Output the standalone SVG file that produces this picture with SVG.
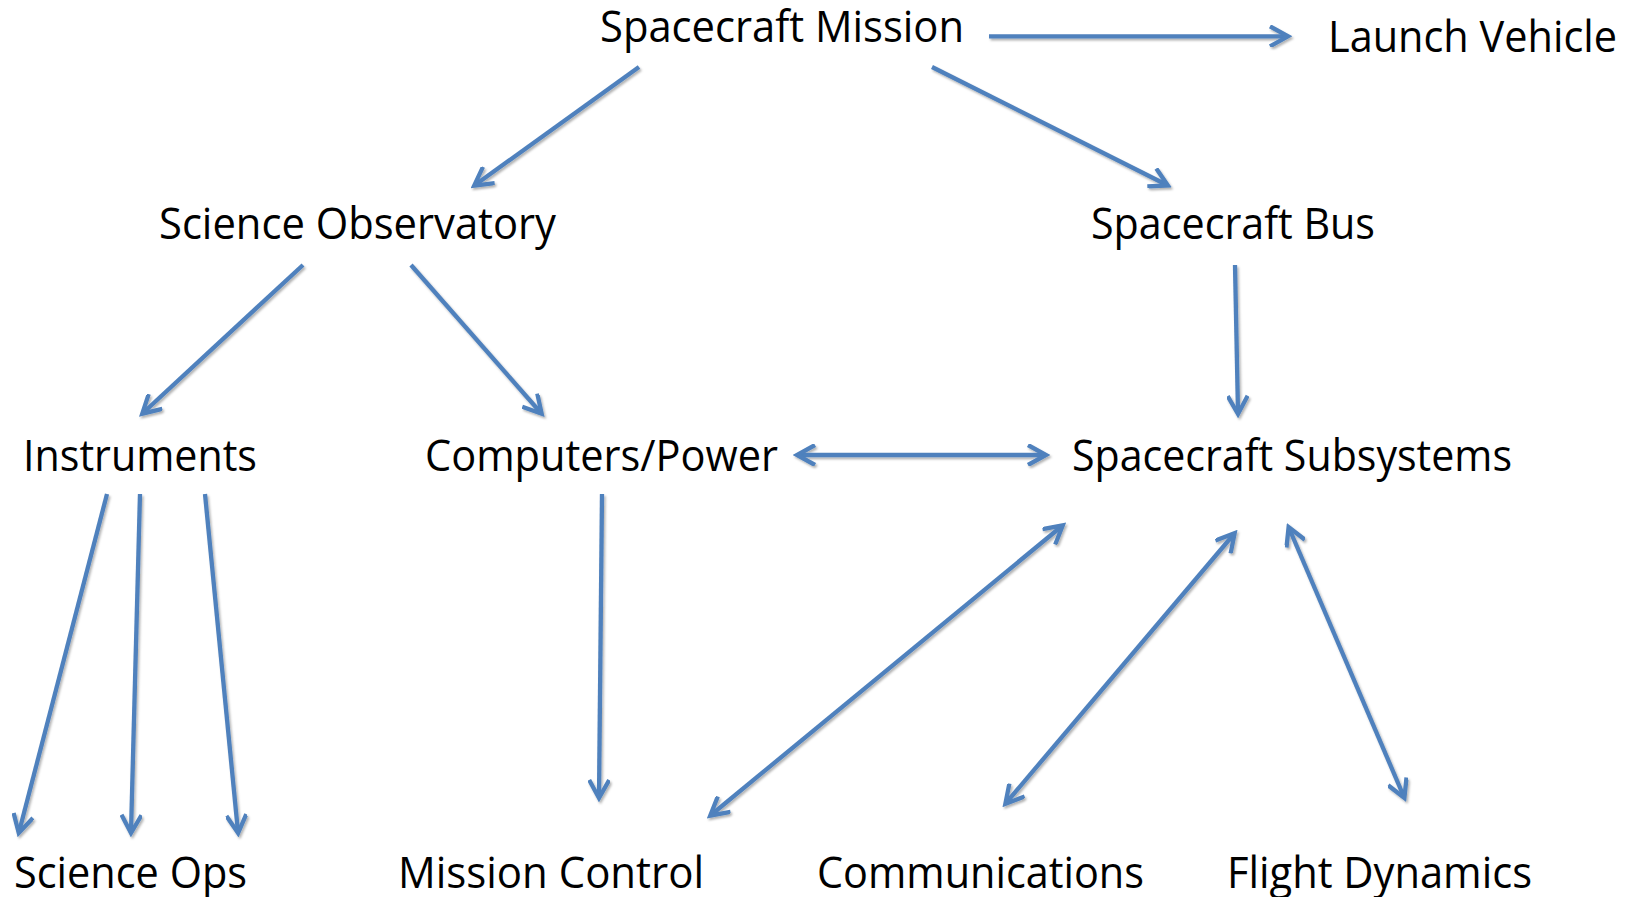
<svg xmlns="http://www.w3.org/2000/svg" width="1631" height="897" viewBox="0 0 1631 897">
<style>
.lbl{font-family:"Open Sans","Liberation Sans",sans-serif;font-size:43px;fill:#000;}
.cn{stroke:#4F81BD;stroke-width:4.3;fill:none;}
.one{marker-end:url(#ah);}
.two{marker-start:url(#ah);marker-end:url(#ah);}
</style>
<defs>
<filter id="sh" filterUnits="userSpaceOnUse" x="0" y="0" width="1631" height="897">
<feDropShadow dx="1.5" dy="2" stdDeviation="1.3" flood-color="#000" flood-opacity="0.3"/>
</filter>
<marker id="ah" viewBox="0 0 24 22" markerWidth="24" markerHeight="22" refX="19" refY="11" orient="auto-start-reverse" markerUnits="userSpaceOnUse">
<path d="M2,1 L20,11 L2,21" fill="none" stroke="#4F81BD" stroke-width="4.3" stroke-linejoin="miter"/>
</marker>
</defs>
<rect width="1631" height="897" fill="#fff"/>
<g id="connectors" filter="url(#sh)">
<line class="cn one" x1="989" y1="36.3" x2="1287" y2="36.3"/>
<line class="cn one" x1="639" y1="67" x2="475" y2="185"/>
<line class="cn one" x1="932" y1="67" x2="1167" y2="185"/>
<line class="cn one" x1="303" y1="265" x2="143" y2="413"/>
<line class="cn one" x1="411" y1="265" x2="541" y2="413"/>
<line class="cn one" x1="1235" y1="265" x2="1238" y2="413"/>
<line class="cn two" x1="798" y1="455" x2="1045" y2="455"/>
<line class="cn one" x1="107" y1="494" x2="19" y2="832"/>
<line class="cn one" x1="140" y1="494" x2="131" y2="832"/>
<line class="cn one" x1="205" y1="494" x2="238" y2="832"/>
<line class="cn one" x1="602" y1="494" x2="599" y2="797"/>
<line class="cn two" x1="711" y1="815" x2="1062" y2="526"/>
<line class="cn two" x1="1006" y1="803" x2="1234" y2="534"/>
<line class="cn two" x1="1404" y1="797" x2="1289" y2="528"/>
</g>
<g id="spacecraft-mission"><text class="lbl" x="600" y="42" textLength="364" lengthAdjust="spacingAndGlyphs">Spacecraft Mission</text></g>
<g id="launch-vehicle"><text class="lbl" x="1328" y="52" textLength="289" lengthAdjust="spacingAndGlyphs">Launch Vehicle</text></g>
<g id="science-observatory"><text class="lbl" x="159" y="239" textLength="397" lengthAdjust="spacingAndGlyphs">Science Observatory</text></g>
<g id="spacecraft-bus"><text class="lbl" x="1091" y="239" textLength="284" lengthAdjust="spacingAndGlyphs">Spacecraft Bus</text></g>
<g id="instruments"><text class="lbl" x="23" y="471" textLength="234" lengthAdjust="spacingAndGlyphs">Instruments</text></g>
<g id="computers-power"><text class="lbl" x="425" y="471" textLength="353" lengthAdjust="spacingAndGlyphs">Computers/Power</text></g>
<g id="spacecraft-subsystems"><text class="lbl" x="1072" y="471" textLength="440" lengthAdjust="spacingAndGlyphs">Spacecraft Subsystems</text></g>
<g id="science-ops"><text class="lbl" x="14" y="888" textLength="233" lengthAdjust="spacingAndGlyphs">Science Ops</text></g>
<g id="mission-control"><text class="lbl" x="398" y="888" textLength="306" lengthAdjust="spacingAndGlyphs">Mission Control</text></g>
<g id="communications"><text class="lbl" x="817" y="888" textLength="327" lengthAdjust="spacingAndGlyphs">Communications</text></g>
<g id="flight-dynamics"><text class="lbl" x="1227" y="888" textLength="305" lengthAdjust="spacingAndGlyphs">Flight Dynamics</text></g>
</svg>
